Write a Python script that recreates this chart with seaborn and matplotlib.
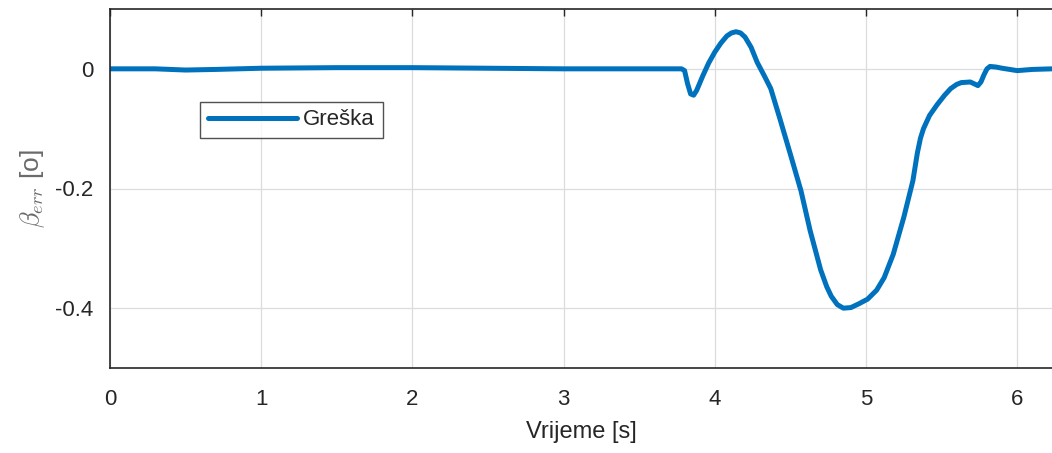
import matplotlib
matplotlib.use("Agg")
import matplotlib.pyplot as plt
import seaborn as sns
import pandas as pd

# ── Data ────────────────────────────────────────────────────
t = [0.0, 0.3, 0.5, 0.7, 1.0, 1.5, 2.0, 2.5, 3.0, 3.5, 3.78,
     3.80, 3.82, 3.84, 3.86, 3.88, 3.92, 3.96, 4.00, 4.04, 4.08,
     4.11, 4.14, 4.17, 4.20, 4.24, 4.28, 4.33, 4.37, 4.43, 4.50,
     4.57, 4.63, 4.70, 4.74, 4.77, 4.81, 4.85, 4.90, 4.95, 5.01,
     5.07, 5.12, 5.18, 5.25, 5.31, 5.34, 5.36, 5.38, 5.42, 5.47,
     5.52, 5.56, 5.60, 5.63, 5.69, 5.74, 5.76, 5.78, 5.80, 5.82,
     5.86, 5.90, 6.00, 6.10, 6.23]
err = [0.0, 0.0, -0.002, -0.001, 0.001, 0.002, 0.002, 0.001, 0.0, 0.0, 0.0,
       -0.003, -0.025, -0.042, -0.044, -0.036, -0.012, 0.010, 0.028, 0.043, 0.055,
       0.060, 0.062, 0.060, 0.053, 0.036, 0.011, -0.013, -0.033, -0.083, -0.143,
       -0.204, -0.270, -0.336, -0.364, -0.380, -0.394, -0.400, -0.399, -0.393, -0.385,
       -0.370, -0.349, -0.310, -0.248, -0.187, -0.140, -0.116, -0.100, -0.078, -0.060,
       -0.044, -0.033, -0.026, -0.023, -0.022, -0.028, -0.022, -0.010, 0.000, 0.004,
       0.003, 0.001, -0.003, -0.001, 0.0]

df = pd.DataFrame({"t": t, "err": err})

BLUE = "#0072BD"
DARK = "#262626"

sns.set_style("white")
plt.rcParams["font.family"] = ["Liberation Sans", "DejaVu Sans"]
plt.rcParams["mathtext.fontset"] = "cm"

fig = plt.figure(figsize=(10.52, 4.53), dpi=100)
ax = fig.add_axes([110 / 1052, 1 - 368 / 453, 1 - 110 / 1052, 359 / 453])

sns.lineplot(data=df, x="t", y="err", ax=ax, color=BLUE, linewidth=3.6,
             sort=False, estimator=None, label="Greška",
             solid_joinstyle="round", solid_capstyle="round")

ax.set_xlim(0, 6.23)
ax.set_ylim(-0.5, 0.1)
ax.set_xticks([0, 1, 2, 3, 4, 5, 6])
ax.set_yticks([-0.4, -0.2, 0])
ax.set_yticklabels(["-0.4", "-0.2", "0"])
ax.grid(True, color="#dcdcdc", linewidth=0.9)
ax.tick_params(direction="in", length=5, width=1, colors=DARK,
               labelsize=16, top=True, pad=12)
ax.tick_params(axis="x", pad=15)
for s in ["left", "bottom", "top"]:
    ax.spines[s].set_color(DARK)
    ax.spines[s].set_linewidth(1.2)
ax.spines["right"].set_visible(False)

ax.set_xlabel("Vrijeme [s]", fontsize=17, color=DARK, labelpad=8)
ax.set_ylabel(r"$\beta_{err}$ [o]", fontsize=19, color="#6a6a6a", labelpad=6)

leg = ax.legend(loc="upper left", bbox_to_anchor=(0.0955, 0.742), fontsize=16,
                frameon=True, fancybox=False, handlelength=4.0,
                handletextpad=0.3, borderpad=0.35, borderaxespad=0)
leg.get_frame().set_edgecolor(DARK)
leg.get_frame().set_linewidth(1.0)

fig.savefig("out.png", dpi=100)
